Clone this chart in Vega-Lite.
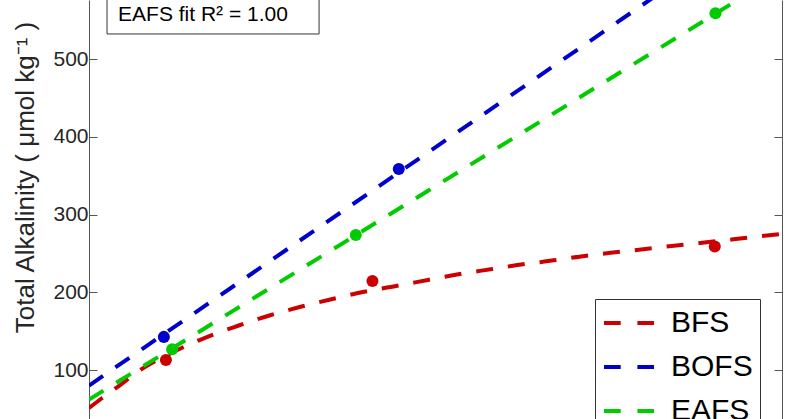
{
  "$schema": "https://vega.github.io/schema/vega-lite/v6.json",
  "width": 693,
  "height": 419,
  "autosize": "none",
  "padding": {"left": 89, "top": 0, "right": 18, "bottom": 0},
  "background": "white",
  "config": {
    "view": {"stroke": null},
    "font": "Liberation Sans"
  },
  "datasets": {
    "fits": [
      {"series": "BFS", "x": 0, "v": 51.1},
      {"series": "BFS", "x": 1.7, "v": 62.7},
      {"series": "BFS", "x": 4.5, "v": 80.7},
      {"series": "BFS", "x": 7.4, "v": 100},
      {"series": "BFS", "x": 11.0, "v": 118.0},
      {"series": "BFS", "x": 17.0, "v": 142.4},
      {"series": "BFS", "x": 21.4, "v": 156.6},
      {"series": "BFS", "x": 25.8, "v": 169.5},
      {"series": "BFS", "x": 30.4, "v": 181.0},
      {"series": "BFS", "x": 35.1, "v": 191.3},
      {"series": "BFS", "x": 39.5, "v": 200.3},
      {"series": "BFS", "x": 44.3, "v": 208.0},
      {"series": "BFS", "x": 48.9, "v": 215.8},
      {"series": "BFS", "x": 53.5, "v": 223.5},
      {"series": "BFS", "x": 58.2, "v": 229.9},
      {"series": "BFS", "x": 62.9, "v": 236.3},
      {"series": "BFS", "x": 67.5, "v": 241.5},
      {"series": "BFS", "x": 72.0, "v": 247.4},
      {"series": "BFS", "x": 76.9, "v": 252.3},
      {"series": "BFS", "x": 81.5, "v": 256.9},
      {"series": "BFS", "x": 86.3, "v": 261.6},
      {"series": "BFS", "x": 90.8, "v": 265.9},
      {"series": "BFS", "x": 95.4, "v": 270.6},
      {"series": "BFS", "x": 100, "v": 274.9},
      {"series": "BOFS", "x": 0, "v": 80},
      {"series": "BOFS", "x": 100, "v": 693},
      {"series": "EAFS", "x": 0, "v": 62},
      {"series": "EAFS", "x": 100, "v": 611}
    ],
    "obs": [
      {"series": "BFS", "x": 11.1, "v": 112.9},
      {"series": "BFS", "x": 40.9, "v": 214.5},
      {"series": "BFS", "x": 90.3, "v": 258.8},
      {"series": "BOFS", "x": 10.8, "v": 142.6},
      {"series": "BOFS", "x": 44.7, "v": 358.5},
      {"series": "EAFS", "x": 12.0, "v": 126.6},
      {"series": "EAFS", "x": 38.5, "v": 273.6},
      {"series": "EAFS", "x": 90.4, "v": 558.8}
    ],
    "note": [
      {"x1": 2.6, "x2": 33.2, "y1": 532.2, "y2": 620, "tx": 4.2, "ty": 549.3, "label": "EAFS fit R² = 1.00"}
    ]
  },
  "layer": [
    {
      "data": {"name": "fits"},
      "mark": {"type": "line", "strokeWidth": 4, "strokeDash": [17, 15], "interpolate": "monotone", "clip": true},
      "encoding": {
        "x": {"field": "x", "type": "quantitative", "scale": {"domain": [0, 100], "nice": false, "zero": false}, "axis": null},
        "y": {
          "field": "v", "type": "quantitative",
          "scale": {"domain": [37, 575.9], "nice": false, "zero": false},
          "axis": {
            "orient": "left",
            "values": [100, 200, 300, 400, 500],
            "title": "Total Alkalinity ( μmol kg⁻¹ )",
            "titleFont": "Liberation Sans",
            "titleFontSize": 26,
            "titleFontWeight": "normal",
            "titleColor": "#262626",
            "titleAngle": 270,
            "titleAlign": "center",
            "titleBaseline": "middle",
            "titleX": -64,
            "titleY": 177,
            "labelFontSize": 21,
            "labelColor": "#262626",
            "labelPadding": 9,
            "tickSize": -8,
            "tickColor": "#555555",
            "domainColor": "#555555",
            "grid": false
          }
        },
        "color": {
          "field": "series", "type": "nominal",
          "scale": {"domain": ["BFS", "BOFS", "EAFS"], "range": ["#cc0000", "#0000cc", "#00cc00"]},
          "legend": {
            "orient": "none",
            "legendX": 506,
            "legendY": 299,
            "title": null,
            "symbolType": "M-1,0H2.333",
            "symbolSize": 900,
            "symbolStrokeWidth": 4,
            "symbolDash": [16.7, 16.7],
            "labelFontSize": 30,
            "labelFont": "Liberation Sans",
            "labelColor": "black",
            "strokeColor": "#333333",
            "fillColor": "white",
            "padding": 7,
            "rowPadding": 12,
            "labelOffset": 35,
            "labelLimit": 0
          }
        }
      }
    },
    {
      "data": {"name": "obs"},
      "mark": {"type": "circle", "size": 145, "opacity": 1},
      "encoding": {
        "x": {"field": "x", "type": "quantitative", "axis": null},
        "y": {
          "field": "v", "type": "quantitative",
          "axis": {"orient": "right", "values": [100, 200, 300, 400, 500], "labels": false, "title": null, "tickSize": -8, "tickColor": "#555555", "domainColor": "#555555", "grid": false}
        },
        "color": {"field": "series", "type": "nominal"}
      }
    },
    {
      "data": {"name": "note"},
      "mark": {"type": "rect", "fill": "white", "stroke": "#333333", "strokeWidth": 1, "clip": true},
      "encoding": {
        "x": {"field": "x1", "type": "quantitative", "axis": null},
        "x2": {"field": "x2"},
        "y": {"field": "y1", "type": "quantitative", "axis": null},
        "y2": {"field": "y2"}
      }
    },
    {
      "data": {"name": "note"},
      "mark": {"type": "text", "align": "left", "baseline": "alphabetic", "fontSize": 21, "font": "Liberation Sans", "color": "black"},
      "encoding": {
        "x": {"field": "tx", "type": "quantitative", "axis": null},
        "y": {"field": "ty", "type": "quantitative", "axis": null},
        "text": {"field": "label"}
      }
    }
  ],
  "resolve": {"axis": {"y": "independent"}}
}
